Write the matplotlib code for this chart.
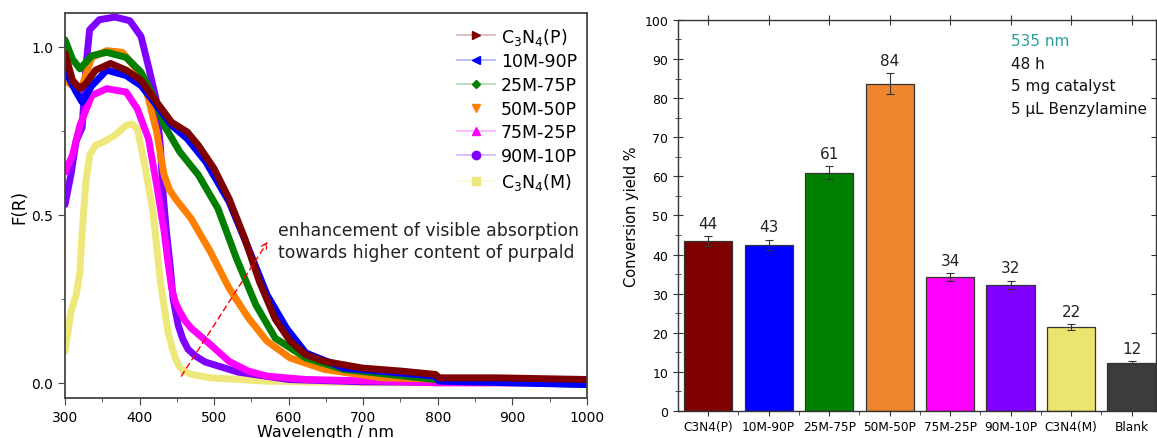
import matplotlib
matplotlib.use("Agg")
import matplotlib.pyplot as plt
from matplotlib.lines import Line2D
from matplotlib.colors import to_rgba
from matplotlib.ticker import MultipleLocator

plt.rcParams['font.family'] = 'DejaVu Sans'
plt.rcParams['mathtext.default'] = 'regular'

# ---- left panel: Kubelka-Munk spectra ----
wl_p = [300, 310, 320, 328, 341, 361, 382, 402, 423, 443, 464, 479, 500, 520, 541, 561, 582, 602, 623, 648, 699, 751, 797, 802, 879, 1000]
f_p = [0.98, 0.90, 0.875, 0.89, 0.93, 0.95, 0.93, 0.90, 0.835, 0.775, 0.746, 0.706, 0.637, 0.548, 0.43, 0.30, 0.19, 0.124, 0.084, 0.064, 0.044, 0.035, 0.025, 0.015, 0.015, 0.01]

wl_10 = [300, 315, 323, 336, 356, 382, 402, 423, 443, 464, 489, 520, 546, 571, 597, 623, 674, 797, 802, 1000]
f_10 = [0.93, 0.865, 0.835, 0.884, 0.93, 0.914, 0.884, 0.825, 0.766, 0.726, 0.657, 0.539, 0.40, 0.262, 0.163, 0.089, 0.044, 0.02, 0.005, -0.005]

wl_25 = [300, 310, 320, 336, 356, 382, 402, 418, 433, 454, 479, 505, 530, 556, 582, 623, 674, 797, 1000]
f_25 = [1.02, 0.963, 0.934, 0.973, 0.983, 0.968, 0.924, 0.855, 0.766, 0.687, 0.618, 0.519, 0.37, 0.232, 0.133, 0.074, 0.04, 0.01, -0.005]

wl_50 = [300, 315, 323, 336, 356, 377, 397, 405, 412, 418, 423, 428, 433, 440, 448, 458, 469, 495, 520, 546, 571, 602, 648, 725, 1000]
f_50 = [0.90, 0.875, 0.884, 0.968, 0.988, 0.983, 0.929, 0.89, 0.845, 0.79, 0.746, 0.68, 0.618, 0.575, 0.548, 0.52, 0.489, 0.39, 0.282, 0.193, 0.124, 0.074, 0.04, 0.015, 0.0]

wl_75 = [300, 310, 320, 336, 356, 382, 397, 412, 423, 433, 438, 443, 448, 454, 461, 469, 495, 520, 546, 571, 623, 725, 802, 1000]
f_75 = [0.627, 0.677, 0.766, 0.855, 0.875, 0.865, 0.815, 0.726, 0.588, 0.45, 0.36, 0.282, 0.24, 0.212, 0.185, 0.163, 0.114, 0.064, 0.035, 0.02, 0.01, 0.005, 0.0, 0.0]

wl_90 = [300, 308, 315, 323, 328, 333, 346, 367, 387, 402, 412, 422, 428, 432, 436, 441, 445, 452, 458, 465, 475, 488, 532, 600, 700, 1000]
f_90 = [0.53, 0.62, 0.72, 0.76, 0.94, 1.05, 1.08, 1.088, 1.077, 1.03, 0.94, 0.845, 0.70, 0.55, 0.45, 0.35, 0.25, 0.17, 0.13, 0.10, 0.08, 0.062, 0.032, 0.01, 0.003, 0.0]

wl_m = [300, 308, 315, 320, 323, 328, 333, 341, 351, 367, 382, 390, 397, 407, 418, 428, 438, 443, 448, 453, 459, 470, 495, 571, 725, 1000]
f_m = [0.094, 0.212, 0.262, 0.33, 0.45, 0.598, 0.677, 0.707, 0.716, 0.736, 0.766, 0.77, 0.756, 0.647, 0.509, 0.30, 0.153, 0.11, 0.074, 0.05, 0.035, 0.025, 0.015, 0.005, 0.0, 0.0]

spec_labels = ['C$_3$N$_4$(P)', '10M-90P', '25M-75P', '50M-50P', '75M-25P', '90M-10P', 'C$_3$N$_4$(M)']
spec_colors = ['#7f0000', '#0000ff', '#007f00', '#ff7f00', '#ff00ff', '#7f00ff', '#eee77a']
spec_markers = ['>', '<', 'D', 'v', '^', 'o', 's']

# ---- right panel: conversion yield ----
samples = ['C3N4(P)', '10M-90P', '25M-75P', '50M-50P', '75M-25P', '90M-10P', 'C3N4(M)', 'Blank']
yields = [43.4, 42.5, 60.9, 83.7, 34.2, 32.3, 21.5, 12.3]
errors = [1.3, 1.3, 1.7, 2.6, 1.0, 1.0, 0.7, 0.4]
yield_labels = ['44', '43', '61', '84', '34', '32', '22', '12']
bar_colors = ['#800000', '#0000ff', '#008000', '#ef852f', '#ff00ff', '#8000ff', '#ebe46e', '#3c3c3c']
conditions = ['535 nm', '48 h', '5 mg catalyst', '5 µL Benzylamine']

fig = plt.figure(figsize=(11.57, 4.39), dpi=100)
ax1 = fig.add_axes([0.0562, 0.0911, 0.451, 0.877])
ax2 = fig.add_axes([0.586, 0.0615, 0.413, 0.891])

series = [(wl_p, f_p), (wl_10, f_10), (wl_25, f_25), (wl_50, f_50),
          (wl_75, f_75), (wl_90, f_90), (wl_m, f_m)]
# draw last series first so C3N4(P) ends on top
for i in reversed(range(len(series))):
    x, y = series[i]
    ax1.plot(x, y, color=spec_colors[i], lw=5, solid_joinstyle='round', solid_capstyle='round')

handles = []
for i in range(len(series)):
    ls = 'none' if spec_labels[i] == '50M-50P' else '-'
    handles.append(Line2D([], [], color=to_rgba(spec_colors[i], 0.3), lw=1.2, ls=ls,
                          marker=spec_markers[i], markersize=6 if spec_markers[i] != 'D' else 4.5,
                          markerfacecolor=spec_colors[i], markeredgecolor=spec_colors[i]))
ax1.legend(handles, spec_labels, loc='upper left', bbox_to_anchor=(0.735, 0.99), frameon=False,
           fontsize=12.5, handlelength=2.2, handletextpad=0.3, labelspacing=0.33, borderpad=0)

ax1.annotate('', xy=(572, 0.42), xytext=(456, 0.02),
             arrowprops=dict(arrowstyle='->', color='red', lw=1, linestyle=(0, (4, 3)), shrinkA=0, shrinkB=0))
ax1.text(586, 0.423, 'enhancement of visible absorption\ntowards higher content of purpald',
         fontsize=12.4, va='center', ha='left', color='#222222', linespacing=1.3)

ax1.set_xlim(300, 1000)
ax1.set_ylim(-0.045, 1.10)
ax1.xaxis.set_major_locator(MultipleLocator(100))
ax1.xaxis.set_minor_locator(MultipleLocator(50))
ax1.set_yticks([0.0, 0.5, 1.0])
ax1.set_yticklabels(['0.0', '0.5', '1.0'])
ax1.yaxis.set_minor_locator(MultipleLocator(0.25))
ax1.tick_params(which='both', direction='out', labelsize=10, color='#444444')
ax1.tick_params(which='major', length=5)
ax1.tick_params(which='minor', length=3)
ax1.set_xlabel('Wavelength / nm', fontsize=11.5, labelpad=0)
ax1.set_ylabel('F(R)', fontsize=12, labelpad=2)
for s in ax1.spines.values():
    s.set_color('#444444')
    s.set_linewidth(1.3)

# bars
pos = list(range(len(samples)))
ax2.bar(pos, yields, width=0.8, color=bar_colors, edgecolor='#333333', linewidth=0.9, zorder=2)
ax2.errorbar(pos, yields, yerr=errors, fmt='none', ecolor='#333333', elinewidth=0.8, capsize=3,
             capthick=0.8, zorder=3)
for p, v, e, t in zip(pos, yields, errors, yield_labels):
    ax2.annotate(t, xy=(p, v + e), xytext=(0, 4), textcoords='offset points',
                 ha='center', va='bottom', fontsize=11, color='#222222')

ax2.set_xlim(-0.5, 7.4)
ax2.set_ylim(0, 100)
ax2.set_xticks(pos)
ax2.set_xticklabels(samples)
ax2.set_xticks([p + 0.5 for p in pos[:-1]], minor=True)
ax2.yaxis.set_major_locator(MultipleLocator(10))
ax2.yaxis.set_minor_locator(MultipleLocator(5))
ax2.tick_params(axis='x', which='major', direction='inout', length=7, labelsize=8.7, pad=3,
                top=True, color='#333333')
ax2.tick_params(axis='x', which='minor', direction='out', length=3, top=False, color='#333333')
ax2.tick_params(axis='y', which='major', direction='inout', length=7, labelsize=9, right=True,
                color='#333333')
ax2.tick_params(axis='y', which='minor', direction='inout', length=4, right=False, color='#333333')
ax2.set_ylabel('Conversion yield %', fontsize=10.5, labelpad=4)
for s in ax2.spines.values():
    s.set_color('#333333')
    s.set_linewidth(1.0)

cond_colors = ['#2e9c9c', '#111111', '#111111', '#111111']
for k, (t, c) in enumerate(zip(conditions, cond_colors)):
    ax2.text(0.696, 0.947 - k * 0.0575, t, transform=ax2.transAxes, fontsize=11,
             color=c, va='center', ha='left')

fig.savefig('out.png', dpi=100)
